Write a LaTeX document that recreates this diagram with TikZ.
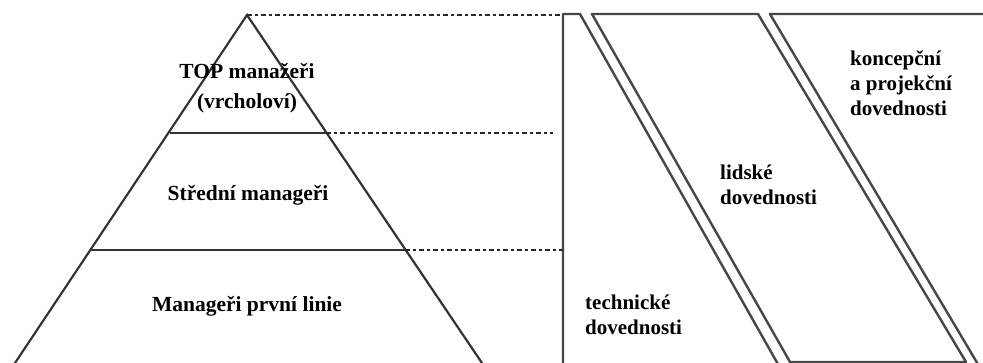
\documentclass[tikz,border=0pt]{standalone}
\usepackage{fontspec}
\setmainfont{Liberation Serif}
\usetikzlibrary{positioning,calc}
\tikzset{
  level/.style={draw=black!80, line width=2.2pt},
  guide/.style={draw=black!85, line width=1.4pt, dash pattern=on 5pt off 3pt on 3pt off 3pt},
  band/.style={draw=black!72, line width=2.4pt, line join=round},
  rank/.style={font=\fontsize{21.5}{30}\selectfont\bfseries, align=center, inner sep=0pt},
  skill/.style={font=\fontsize{21}{25}\selectfont\bfseries, align=left, anchor=west, inner sep=0pt}
}

\begin{document}
\begin{tikzpicture}[x=1pt, y=-1pt]
  \useasboundingbox (0,0) rectangle (983,363);
  % pyramid
  \coordinate (apex) at (247,15); \coordinate (bl) at (13,366); \coordinate (br) at (484,366);
  \coordinate (t1) at (170,133); \coordinate (t2) at (326,133);
  \coordinate (m1) at (91,250); \coordinate (m2) at (405,250);
  \draw[level] (bl) -- (apex) -- (br);
  \draw[level] (t1) -- (t2); \draw[level] (m1) -- (m2);
  \node[rank] (top) at (247,88) {TOP manažeři\\(vrcholoví)};
  \node[rank] (mid) at (248,195) {Střední manageři};
  \node[rank] (low) at (247,306) {Manageři první linie};
  % skill bands
  \coordinate (tl) at (563,14); \coordinate (g1) at (553,133);
  \draw[band] (563,366) -- (tl) -- (580,14) -- (779,366);
  \draw[band] (592,14) -- (758,14) -- (966,362) -- (790,362) -- cycle;
  \draw[band] (990,14) -- (770,14) -- (979,366);
  \draw[guide] (apex) -- (apex -| tl);
  \draw[guide] (t2) -- (g1);
  \draw[guide] (m2) -- (m2 -| tl);
  \node[skill] (tech) at (585,315) {technické\\dovednosti};
  \node[skill] (human) at (720,185) {lidské\\dovednosti};
  \node[skill] (conc) at (850,83) {koncepční\\a projekční\\dovednosti};
\end{tikzpicture}
\end{document}
